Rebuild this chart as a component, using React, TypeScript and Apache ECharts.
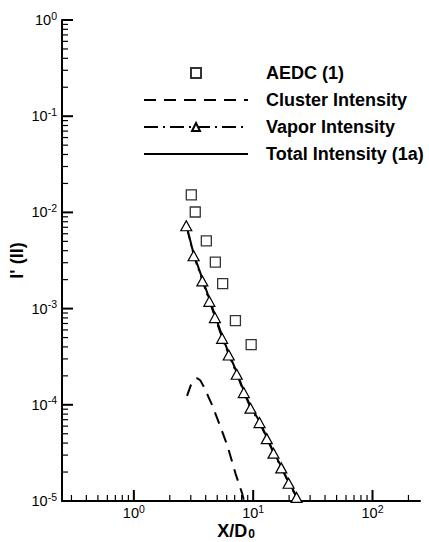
import { useEffect, useRef } from "react";
import * as echarts from "echarts";

// Measured data (intensity vs. axial distance)
const aedcX = [3.03, 3.27, 4.05, 4.82, 5.55, 7.1, 9.62];
const aedcY = [0.0152, 0.0101, 0.00507, 0.00304, 0.00182, 0.000751, 0.000423];

const clusterX = [2.79, 3.01, 3.2, 3.4, 3.6, 3.85, 4.52, 5.31, 6.12, 7.1, 8.08, 8.45];
const clusterY = [
  0.000124, 0.000161, 0.00018, 0.000189, 0.00018, 0.000155, 0.0000998, 0.0000593,
  0.0000367, 0.0000194, 0.000012, 0.0000095,
];

const vaporX = [2.75, 3.17, 3.75, 4.29, 4.78, 5.49, 6.24, 7.28, 8.34, 9.49, 11.3, 13.0, 14.8, 17.2, 19.8, 23.1];
const vaporY = [
  0.00726, 0.00354, 0.00194, 0.00119, 0.000807, 0.000491, 0.000329, 0.000208, 0.000134,
  0.0000922, 0.0000653, 0.0000445, 0.0000314, 0.0000221, 0.0000153, 0.0000109,
];

const totalX = [2.75, 3.17, 3.75, 4.29, 4.78, 5.49, 6.24, 7.28, 8.34, 9.49, 11.3, 13.0, 14.8, 17.2, 19.8, 23.1, 25.0];
const totalY = [
  0.0075, 0.0037, 0.00205, 0.00126, 0.00086, 0.00052, 0.000345, 0.000218, 0.00014,
  0.0000965, 0.0000675, 0.000046, 0.0000324, 0.0000228, 0.0000158, 0.0000113, 0.0000099,
];

// Axis ranges and tick positions
const xMin = 0.25;
const xMax = 250;
const yMin = 1e-5;
const yMax = 1;
const xMajorTicks = [1, 10, 100];
const yMajorTicks = [1e-5, 1e-4, 1e-3, 1e-2, 1e-1, 1];

function minorTicks(decades: number[], lo: number, hi: number): number[] {
  const out: number[] = [];
  for (const d of decades) {
    for (let m = 2; m <= 9; m++) {
      const v = m * d;
      if (v > lo && v < hi) out.push(v);
    }
  }
  return out;
}
const xMinorTicks = minorTicks([0.1, 1, 10, 100], xMin, xMax);
const yMinorTicks = minorTicks([1e-5, 1e-4, 1e-3, 1e-2, 1e-1], yMin, yMax);

const FONT = "'Liberation Sans', Arial, Helvetica, sans-serif";
const SQUARE_ICON = "path://M0,0L10,0L10,10L0,10Z";

const zip = (xs: number[], ys: number[]) => xs.map((x, i) => [x, ys[i]]);

const powerLabel = (v: number) => {
  const l = Math.log10(v);
  const e = Math.round(l);
  if (Math.abs(l - e) > 1e-6) return "";
  return `{b|10}{s|${e}}`;
};

const labelRich = {
  b: { fontSize: 14.5, fontFamily: FONT, color: "#000", lineHeight: 20, verticalAlign: "middle" },
  s: { fontSize: 10.5, fontFamily: FONT, color: "#000", lineHeight: 11, verticalAlign: "top" },
};

export default function App() {
  const ref = useRef<HTMLDivElement>(null);

  useEffect(() => {
    if (!ref.current) return;
    const chart = echarts.init(ref.current, undefined, { renderer: "svg" });

    const tickData = [
      ...xMajorTicks.map((v) => [v, yMin, 0, 1]),
      ...xMinorTicks.map((v) => [v, yMin, 0, 0]),
      ...yMajorTicks.map((v) => [xMin, v, 1, 1]),
      ...yMinorTicks.map((v) => [xMin, v, 1, 0]),
    ];

    const noMarker = { color: "rgba(0,0,0,0)", borderWidth: 0 };

    chart.setOption({
      animation: false,
      backgroundColor: "#fff",
      textStyle: { fontFamily: FONT, color: "#000" },
      grid: { left: 62, right: 9, top: 20, bottom: 41, containLabel: false, outerBoundsMode: "none" },
      legend: {
        orient: "vertical",
        left: 143,
        top: 64,
        padding: 0,
        itemWidth: 104,
        itemHeight: 10,
        itemGap: 9,
        selectedMode: false,
        symbolKeepAspect: true,
        textStyle: {
          fontFamily: FONT,
          fontSize: 18,
          fontWeight: "bold",
          color: "#000",
          lineHeight: 18,
          padding: [0, 0, 0, 13],
        },
        data: [
          { name: "AEDC (1)", icon: SQUARE_ICON },
          { name: "Cluster Intensity", itemStyle: noMarker },
          { name: "Vapor Intensity" },
          { name: "Total Intensity (1a)", itemStyle: noMarker },
        ],
      },
      xAxis: {
        type: "log",
        logBase: 10,
        min: xMin,
        max: xMax,
        axisLine: { show: true, lineStyle: { color: "#000", width: 2 } },
        axisTick: { show: false },
        splitLine: { show: false },
        axisLabel: { formatter: powerLabel, rich: labelRich, margin: 2, color: "#000" },
        name: "{t|X/D}{sub|0}",
        nameLocation: "middle",
        nameGap: 21,
        nameMoveOverlap: false,
        nameTextStyle: {
          padding: [0, 10, 0, 0],
          rich: {
            t: { fontSize: 18, fontWeight: "bold", fontFamily: FONT, color: "#000", lineHeight: 18, verticalAlign: "top" },
            sub: { fontSize: 12, fontWeight: "bold", fontFamily: FONT, color: "#000", lineHeight: 12, verticalAlign: "bottom", padding: [8, 0, 0, 1] },
          },
        },
      },
      yAxis: {
        type: "log",
        logBase: 10,
        min: yMin,
        max: yMax,
        axisLine: { show: true, lineStyle: { color: "#000", width: 2 } },
        axisTick: { show: false },
        splitLine: { show: false },
        axisLabel: { formatter: powerLabel, rich: labelRich, margin: 5, color: "#000" },
        name: "I' (II)",
        nameLocation: "middle",
        nameGap: 36,
        nameMoveOverlap: false,
        nameTextStyle: { fontSize: 18, fontWeight: "bold", fontFamily: FONT, color: "#000" },
      },
      series: [
        {
          name: "AEDC (1)",
          type: "scatter",
          data: zip(aedcX, aedcY),
          symbol: "rect",
          symbolSize: 10,
          itemStyle: { color: "#fff", borderColor: "#000", borderWidth: 1.3 },
          z: 3,
        },
        {
          name: "Cluster Intensity",
          type: "line",
          data: zip(clusterX, clusterY),
          symbol: "none",
          showSymbol: false,
          lineStyle: { color: "#000", width: 2, type: [12, 8] },
          itemStyle: noMarker,
        },
        {
          name: "Vapor Intensity",
          type: "line",
          data: zip(vaporX, vaporY),
          symbol: "triangle",
          symbolSize: [11, 10],
          showSymbol: true,
          lineStyle: { color: "#000", width: 1.5, type: [14, 5, 2, 5] },
          itemStyle: { color: "#fff", borderColor: "#000", borderWidth: 1.2 },
        },
        {
          name: "Total Intensity (1a)",
          type: "line",
          data: zip(totalX, totalY),
          symbol: "none",
          showSymbol: false,
          lineStyle: { color: "#000", width: 2 },
          itemStyle: noMarker,
        },
        {
          type: "custom",
          silent: true,
          clip: false,
          z: 6,
          encode: { x: 0, y: 1 },
          data: tickData,
          renderItem: (_params: any, api: any) => {
            const p = api.coord([api.value(0), api.value(1)]);
            const isY = api.value(2) === 1;
            const major = api.value(3) === 1;
            const len = major ? 11 : 6;
            return {
              type: "line",
              shape: isY
                ? { x1: p[0], y1: p[1], x2: p[0] + len, y2: p[1] }
                : { x1: p[0], y1: p[1], x2: p[0], y2: p[1] - len },
              style: { stroke: "#000", lineWidth: major ? 2 : 1.2 },
            };
          },
        },
      ],
    });

    return () => chart.dispose();
  }, []);

  return (
    <div
      ref={ref}
      style={{ position: "fixed", left: 0, top: 0, width: 429, height: 542, background: "#fff" }}
    />
  );
}
